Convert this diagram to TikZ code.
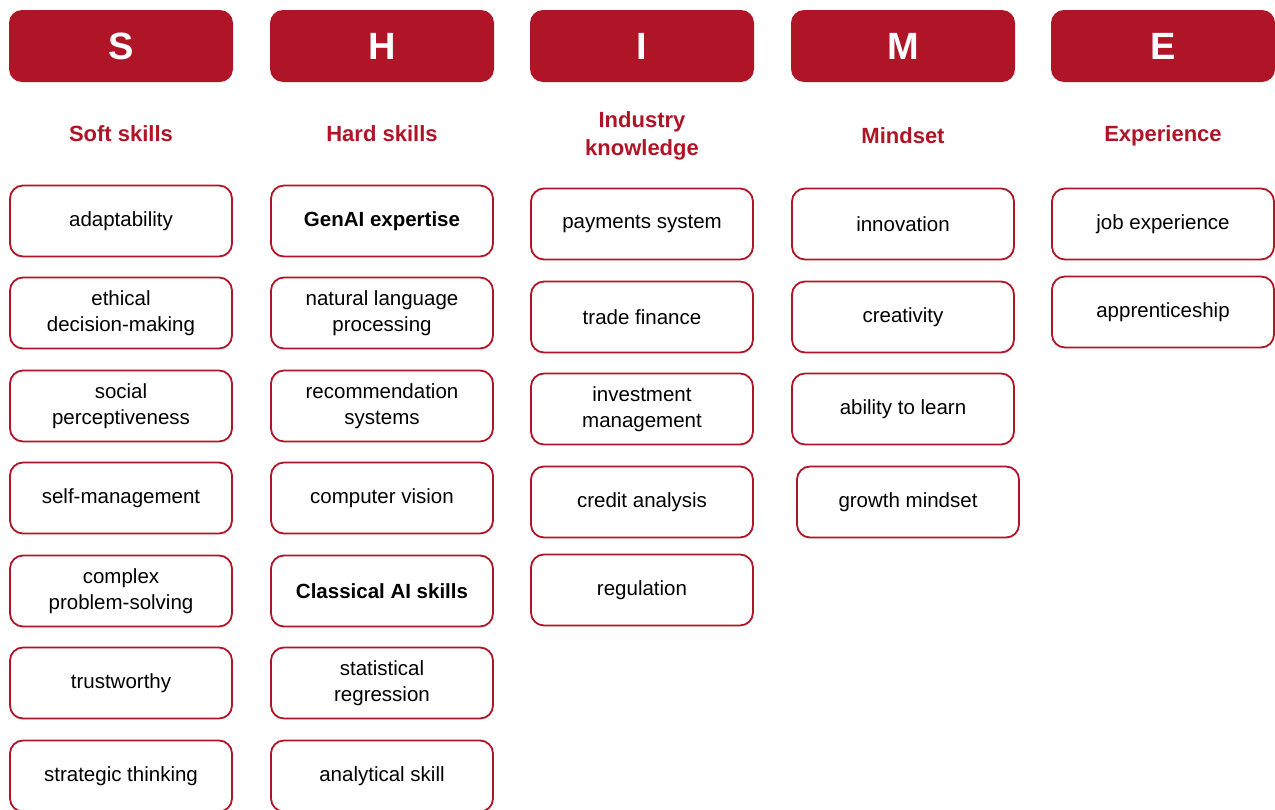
\documentclass[tikz,border=0pt]{standalone}
\usepackage{fontspec}
\setmainfont{Liberation Sans}
\definecolor{shimered}{HTML}{AF1526}
\tikzset{
	letterbox/.style={fill=shimered, draw=none, rounded corners=13pt, minimum width=224pt, minimum height=72pt, text=white, font=\fontsize{38}{40}\selectfont\bfseries},
	headtext/.style={text=shimered, align=center, font=\fontsize{22}{28}\selectfont\bfseries},
	skillbox/.style={draw=shimered, line width=1.8pt, rounded corners=13pt, minimum width=222pt, minimum height=71pt, align=center, inner sep=0pt, font=\fontsize{20.5}{26}\selectfont},
}

\begin{document}
\begin{tikzpicture}[x=1pt, y=-1pt]
			%%%%% START %%%%%
			\clip (0, 0) rectangle (1275, 809);
			
			% letters across the top
			\node[letterbox] (S) at (121, 46) {S};
			\node[letterbox] (H) at (382, 46) {H};
			\node[letterbox] (I) at (642, 46) {I};
			\node[letterbox] (M) at (903, 46) {M};
			\node[letterbox] (E) at (1163, 46) {E};
			
			% headings
			\node[headtext] (soft) at (121, 134) {Soft skills};
			\node[headtext] (hard) at (382, 134) {Hard skills};
			\node[headtext] (industry) at (642, 136) {Industry\\knowledge};
			\node[headtext] (mindset) at (903, 136) {Mindset};
			\node[headtext] (experience) at (1163, 136) {Experience};
			
			% S column
			\node[skillbox] (s1) at (121, 221) {adaptability};
			\node[skillbox] (s2) at (121, 313) {ethical\\decision-making};
			\node[skillbox] (s3) at (121, 406) {social\\perceptiveness};
			\node[skillbox] (s4) at (121, 498) {self-management};
			\node[skillbox] (s5) at (121, 591) {complex\\problem-solving};
			\node[skillbox] (s6) at (121, 683) {trustworthy};
			\node[skillbox] (s7) at (121, 776) {strategic thinking};
			
			% H column
			\node[skillbox] (h1) at (382, 221) {\textbf{GenAI expertise}};
			\node[skillbox] (h2) at (382, 313) {natural language\\processing};
			\node[skillbox] (h3) at (382, 406) {recommendation\\systems};
			\node[skillbox] (h4) at (382, 498) {computer vision};
			\node[skillbox] (h5) at (382, 591) {\textbf{Classical AI skills}};
			\node[skillbox] (h6) at (382, 683) {statistical\\regression};
			\node[skillbox] (h7) at (382, 776) {analytical skill};
			
			% I column
			\node[skillbox] (i1) at (642, 224) {payments system};
			\node[skillbox] (i2) at (642, 317) {trade finance};
			\node[skillbox] (i3) at (642, 409) {investment\\management};
			\node[skillbox] (i4) at (642, 502) {credit analysis};
			\node[skillbox] (i5) at (642, 590) {regulation};
			
			% M column
			\node[skillbox] (m1) at (903, 224) {innovation};
			\node[skillbox] (m2) at (903, 317) {creativity};
			\node[skillbox] (m3) at (903, 409) {ability to learn};
			\node[skillbox] (m4) at (908, 502) {growth mindset};
			
			% E column
			\node[skillbox] (e1) at (1163, 224) {job experience};
			\node[skillbox] (e2) at (1163, 312) {apprenticeship};
			
			%%%%% END %%%%%
		\end{tikzpicture}
\end{document}
